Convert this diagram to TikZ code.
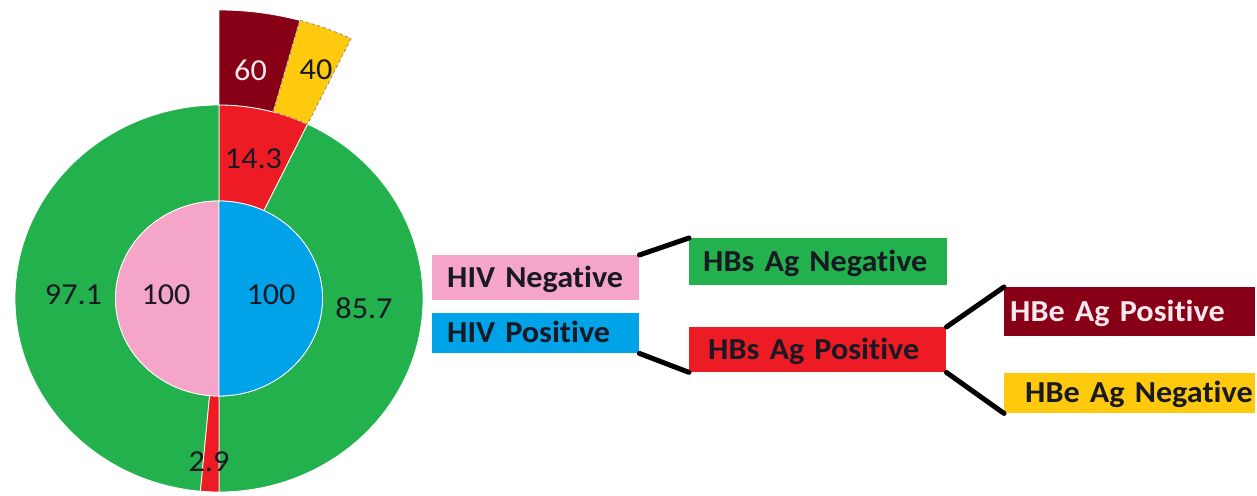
\documentclass[tikz,border=0pt]{standalone}
\usepackage{fontspec}
\setmainfont{Carlito}[FakeStretch=1.055, Ligatures=NoCommon]
\usetikzlibrary{calc}
\definecolor{pgreen}{RGB}{34,177,76}
\definecolor{ppink}{RGB}{245,165,200}
\definecolor{pblue}{RGB}{0,162,232}
\definecolor{pred}{RGB}{237,28,36}
\definecolor{pdark}{RGB}{136,0,21}
\definecolor{pyellow}{RGB}{255,201,14}
\definecolor{numtext}{RGB}{25,25,35}
\definecolor{lighttext}{RGB}{250,232,238}
\newcommand\ringpart[7]{\path[slice,#1] ($(C)+(#2:#6 and #7)$) arc[start angle=#2,end angle=#3,x radius=#6,y radius=#7] -- ($(C)+(#3:#4 and #5)$) arc[start angle=#3,end angle=#2,x radius=#4,y radius=#5] -- cycle;}
\begin{document}
\begin{tikzpicture}[x=1pt,y=1pt,
 slice/.style={draw=white, line width=0.8pt},
 num/.style={font=\fontsize{30.5}{30.5}\selectfont, text=numtext, inner sep=0pt},
 legend/.style={rectangle, anchor=north west, inner xsep=0pt, inner ysep=0pt, align=left, font=\bfseries\fontsize{30.5}{30.5}\selectfont, text height=19pt, text depth=0pt, text=numtext},
 link/.style={line width=5pt, line cap=round, black}]
\useasboundingbox (0,0) rectangle (1257,495);
\coordinate (C) at (219,196.5);
% outer ring
\ringpart{fill=pred}{90}{64.26}{103.5pt}{97.5pt}{204pt}{193.5pt}
\ringpart{fill=pgreen}{64.26}{-90}{103.5pt}{97.5pt}{204pt}{193.5pt}
\ringpart{fill=pgreen}{90}{264.78}{103.5pt}{97.5pt}{204pt}{193.5pt}
\ringpart{fill=pred}{264.78}{270}{103.5pt}{97.5pt}{204pt}{193.5pt}
% third ring
\ringpart{fill=pdark}{90}{74.56}{204pt}{193.5pt}{304pt}{288.5pt}
\ringpart{fill=pyellow, draw=black!50, dashed, line width=0.7pt}{74.56}{64.26}{204pt}{193.5pt}{304pt}{288.5pt}
% inner pie
\path[slice, fill=ppink] (C) -- ($(C)+(90:103.5pt and 97.5pt)$) arc[start angle=90,end angle=270,x radius=103.5pt,y radius=97.5pt] -- cycle;
\path[slice, fill=pblue] (C) -- ($(C)+(90:103.5pt and 97.5pt)$) arc[start angle=90,end angle=-90,x radius=103.5pt,y radius=97.5pt] -- cycle;
% values
\node[num, text=lighttext] (n60) at (250.5,425) {60};
\node[num] (n40) at (316,425) {40};
\node[num] (n143) at (253.5,336) {14.3};
\node[num] (n971) at (73.5,200) {97.1};
\node[num] (n100a) at (166,200) {100};
\node[num] (n100b) at (271,200) {100};
\node[num] (n857) at (364,187) {85.7};
\node[num] (n29) at (209,33) {2.9};
% legend
\node[legend, fill=ppink, minimum width=207pt, text width=207pt, minimum height=45pt] (hivneg) at (432,240) {\hspace*{15pt}HIV Negative};
\node[legend, fill=pblue, minimum width=207pt, text width=207pt, minimum height=40pt] (hivpos) at (432,182) {\hspace*{15pt}HIV Positive};
\node[legend, fill=pgreen, minimum width=258pt, text width=258pt, minimum height=47pt] (hbsneg) at (689,257) {\hspace*{14pt}HBs Ag Negative};
\node[legend, fill=pred, minimum width=257pt, text width=257pt, minimum height=45pt] (hbspos) at (689,168) {\hspace*{19pt}HBs Ag Positive};
\node[legend, fill=pdark, text=lighttext, minimum width=251pt, text width=251pt, minimum height=49pt] (hbepos) at (1004,208) {\hspace*{6pt}HBe Ag Positive};
\node[legend, fill=pyellow, minimum width=251pt, text width=251pt, minimum height=40pt] (hbeneg) at (1004,122) {\hspace*{21pt}HBe Ag Negative};
% connectors
\draw[link] (hivneg.north east) -- (hbsneg.north west);
\draw[link] (hivpos.south east) -- (hbspos.south west);
\draw[link] (hbspos.north east) -- (hbepos.north west);
\draw[link] (hbspos.south east) -- (hbeneg.south west);
\end{tikzpicture}
\end{document}
